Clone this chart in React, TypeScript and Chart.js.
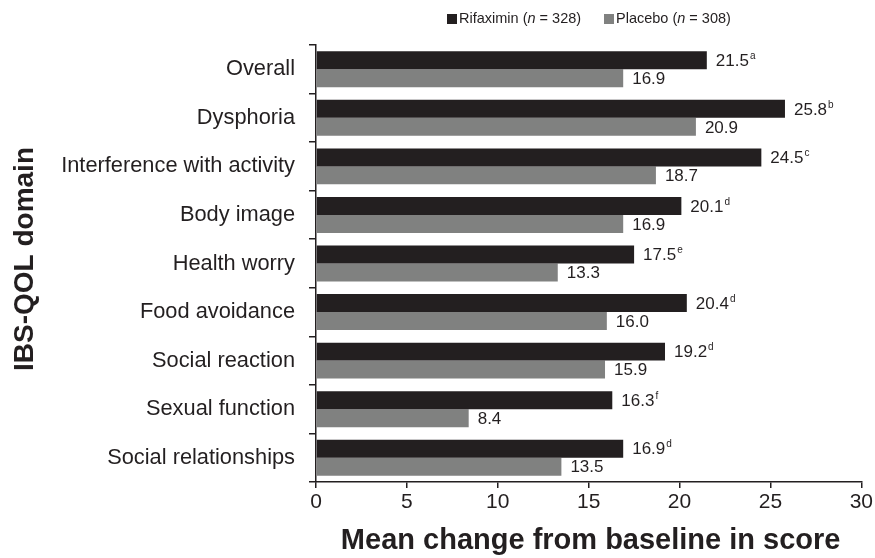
import React, { useEffect, useRef } from "react";
import { Chart, registerables } from "chart.js";

Chart.register(...registerables);

const categories = [
  "Overall",
  "Dysphoria",
  "Interference with activity",
  "Body image",
  "Health worry",
  "Food avoidance",
  "Social reaction",
  "Sexual function",
  "Social relationships",
];
const rifaximin = [21.5, 25.8, 24.5, 20.1, 17.5, 20.4, 19.2, 16.3, 16.9];
const placebo = [16.9, 20.9, 18.7, 16.9, 13.3, 16.0, 15.9, 8.4, 13.5];
const rifaximinSup = ["a", "b", "c", "d", "e", "d", "d", "f", "d"];
const xTicks = [0, 5, 10, 15, 20, 25, 30];

const DARK = "#231f20";
const GRAY = "#808180";
const FONT = "'Liberation Sans', Arial, Helvetica, sans-serif";

const overlayPlugin = {
  id: "overlay",
  afterDatasetsDraw(chart: any) {
    const ctx = chart.ctx;
    ctx.save();
    chart.data.datasets.forEach((ds: any, di: number) => {
      const meta = chart.getDatasetMeta(di);
      meta.data.forEach((el: any, i: number) => {
        const v = ds.data[i];
        const txt = v.toFixed(1);
        const x = el.x + 9;
        const y = el.y + 1;
        ctx.fillStyle = DARK;
        ctx.font = `17px ${FONT}`;
        ctx.textAlign = "left";
        ctx.textBaseline = "middle";
        ctx.fillText(txt, x, y);
        if (di === 0) {
          const w = ctx.measureText(txt).width;
          ctx.font = `10px ${FONT}`;
          ctx.fillText(rifaximinSup[i], x + w + 1, y - 5);
        }
      });
    });
    ctx.restore();
  },
  afterDraw(chart: any) {
    const ctx = chart.ctx;
    const area = chart.chartArea;
    ctx.save();
    ctx.fillStyle = DARK;
    ctx.font = `bold 29px ${FONT}`;
    ctx.textAlign = "center";
    ctx.textBaseline = "middle";
    ctx.fillText("Mean change from baseline in score", (area.left + area.right) / 2 + 2, 541);
    ctx.save();
    ctx.font = `bold 28px ${FONT}`;
    ctx.translate(25, 259);
    ctx.rotate(-Math.PI / 2);
    ctx.fillText("IBS-QOL domain", 0, 0);
    ctx.restore();
    const items = [
      { color: DARK, pre: "Rifaximin (", post: " = 328)", x: 447 },
      { color: GRAY, pre: "Placebo (", post: " = 308)", x: 604 },
    ];
    const ly = 19;
    ctx.textAlign = "left";
    ctx.textBaseline = "middle";
    items.forEach((it) => {
      ctx.fillStyle = it.color;
      ctx.fillRect(it.x, ly - 5, 10, 10);
      ctx.fillStyle = DARK;
      let x = it.x + 12;
      ctx.font = `14.5px ${FONT}`;
      ctx.fillText(it.pre, x, ly);
      x += ctx.measureText(it.pre).width;
      ctx.font = `italic 14.5px ${FONT}`;
      ctx.fillText("n", x, ly);
      x += ctx.measureText("n").width;
      ctx.font = `14.5px ${FONT}`;
      ctx.fillText(it.post, x, ly);
    });
    ctx.restore();
  },
};

export default function App() {
  const ref = useRef<HTMLCanvasElement | null>(null);
  useEffect(() => {
    if (!ref.current) return;
    const chart = new Chart(ref.current, {
      type: "bar",
      data: {
        labels: categories,
        datasets: [
          {
            label: "Rifaximin (n = 328)",
            data: rifaximin,
            backgroundColor: DARK,
            categoryPercentage: 0.74,
            barPercentage: 1,
          },
          {
            label: "Placebo (n = 308)",
            data: placebo,
            backgroundColor: GRAY,
            categoryPercentage: 0.74,
            barPercentage: 1,
          },
        ],
      },
      options: {
        indexAxis: "y",
        responsive: false,
        animation: false,
        layout: { padding: { top: 45, right: 13, left: 0, bottom: 0 } },
        plugins: {
          legend: { display: false },
          tooltip: { enabled: false },
          title: { display: false },
        },
        scales: {
          x: {
            type: "linear",
            min: 0,
            max: 30,
            afterBuildTicks: (scale: any) => {
              scale.ticks = xTicks.map((v) => ({ value: v }));
            },
            afterFit: (scale: any) => {
              scale.height = 76;
            },
            grid: {
              drawOnChartArea: false,
              drawTicks: true,
              tickLength: 6,
              color: DARK,
              lineWidth: 1.5,
            },
            border: { display: true, color: DARK, width: 1.5 },
            ticks: {
              color: DARK,
              font: { family: FONT, size: 21 },
              padding: 2,
            },
          },
          y: {
            afterFit: (scale: any) => {
              scale.width = 316;
            },
            grid: {
              drawOnChartArea: false,
              drawTicks: true,
              tickLength: 7,
              offset: true,
              color: DARK,
              lineWidth: 1.5,
            },
            border: { display: true, color: DARK, width: 1.5 },
            ticks: {
              color: DARK,
              font: { family: FONT, size: 21.8 },
              padding: 14,
            },
          },
        },
      },
      plugins: [overlayPlugin],
    } as any);
    return () => chart.destroy();
  }, []);
  return (
    <div style={{ position: "absolute", left: 0, top: 0, width: 875, height: 558, background: "#fff" }}>
      <canvas ref={ref} width={875} height={558} style={{ display: "block" }} />
    </div>
  );
}
